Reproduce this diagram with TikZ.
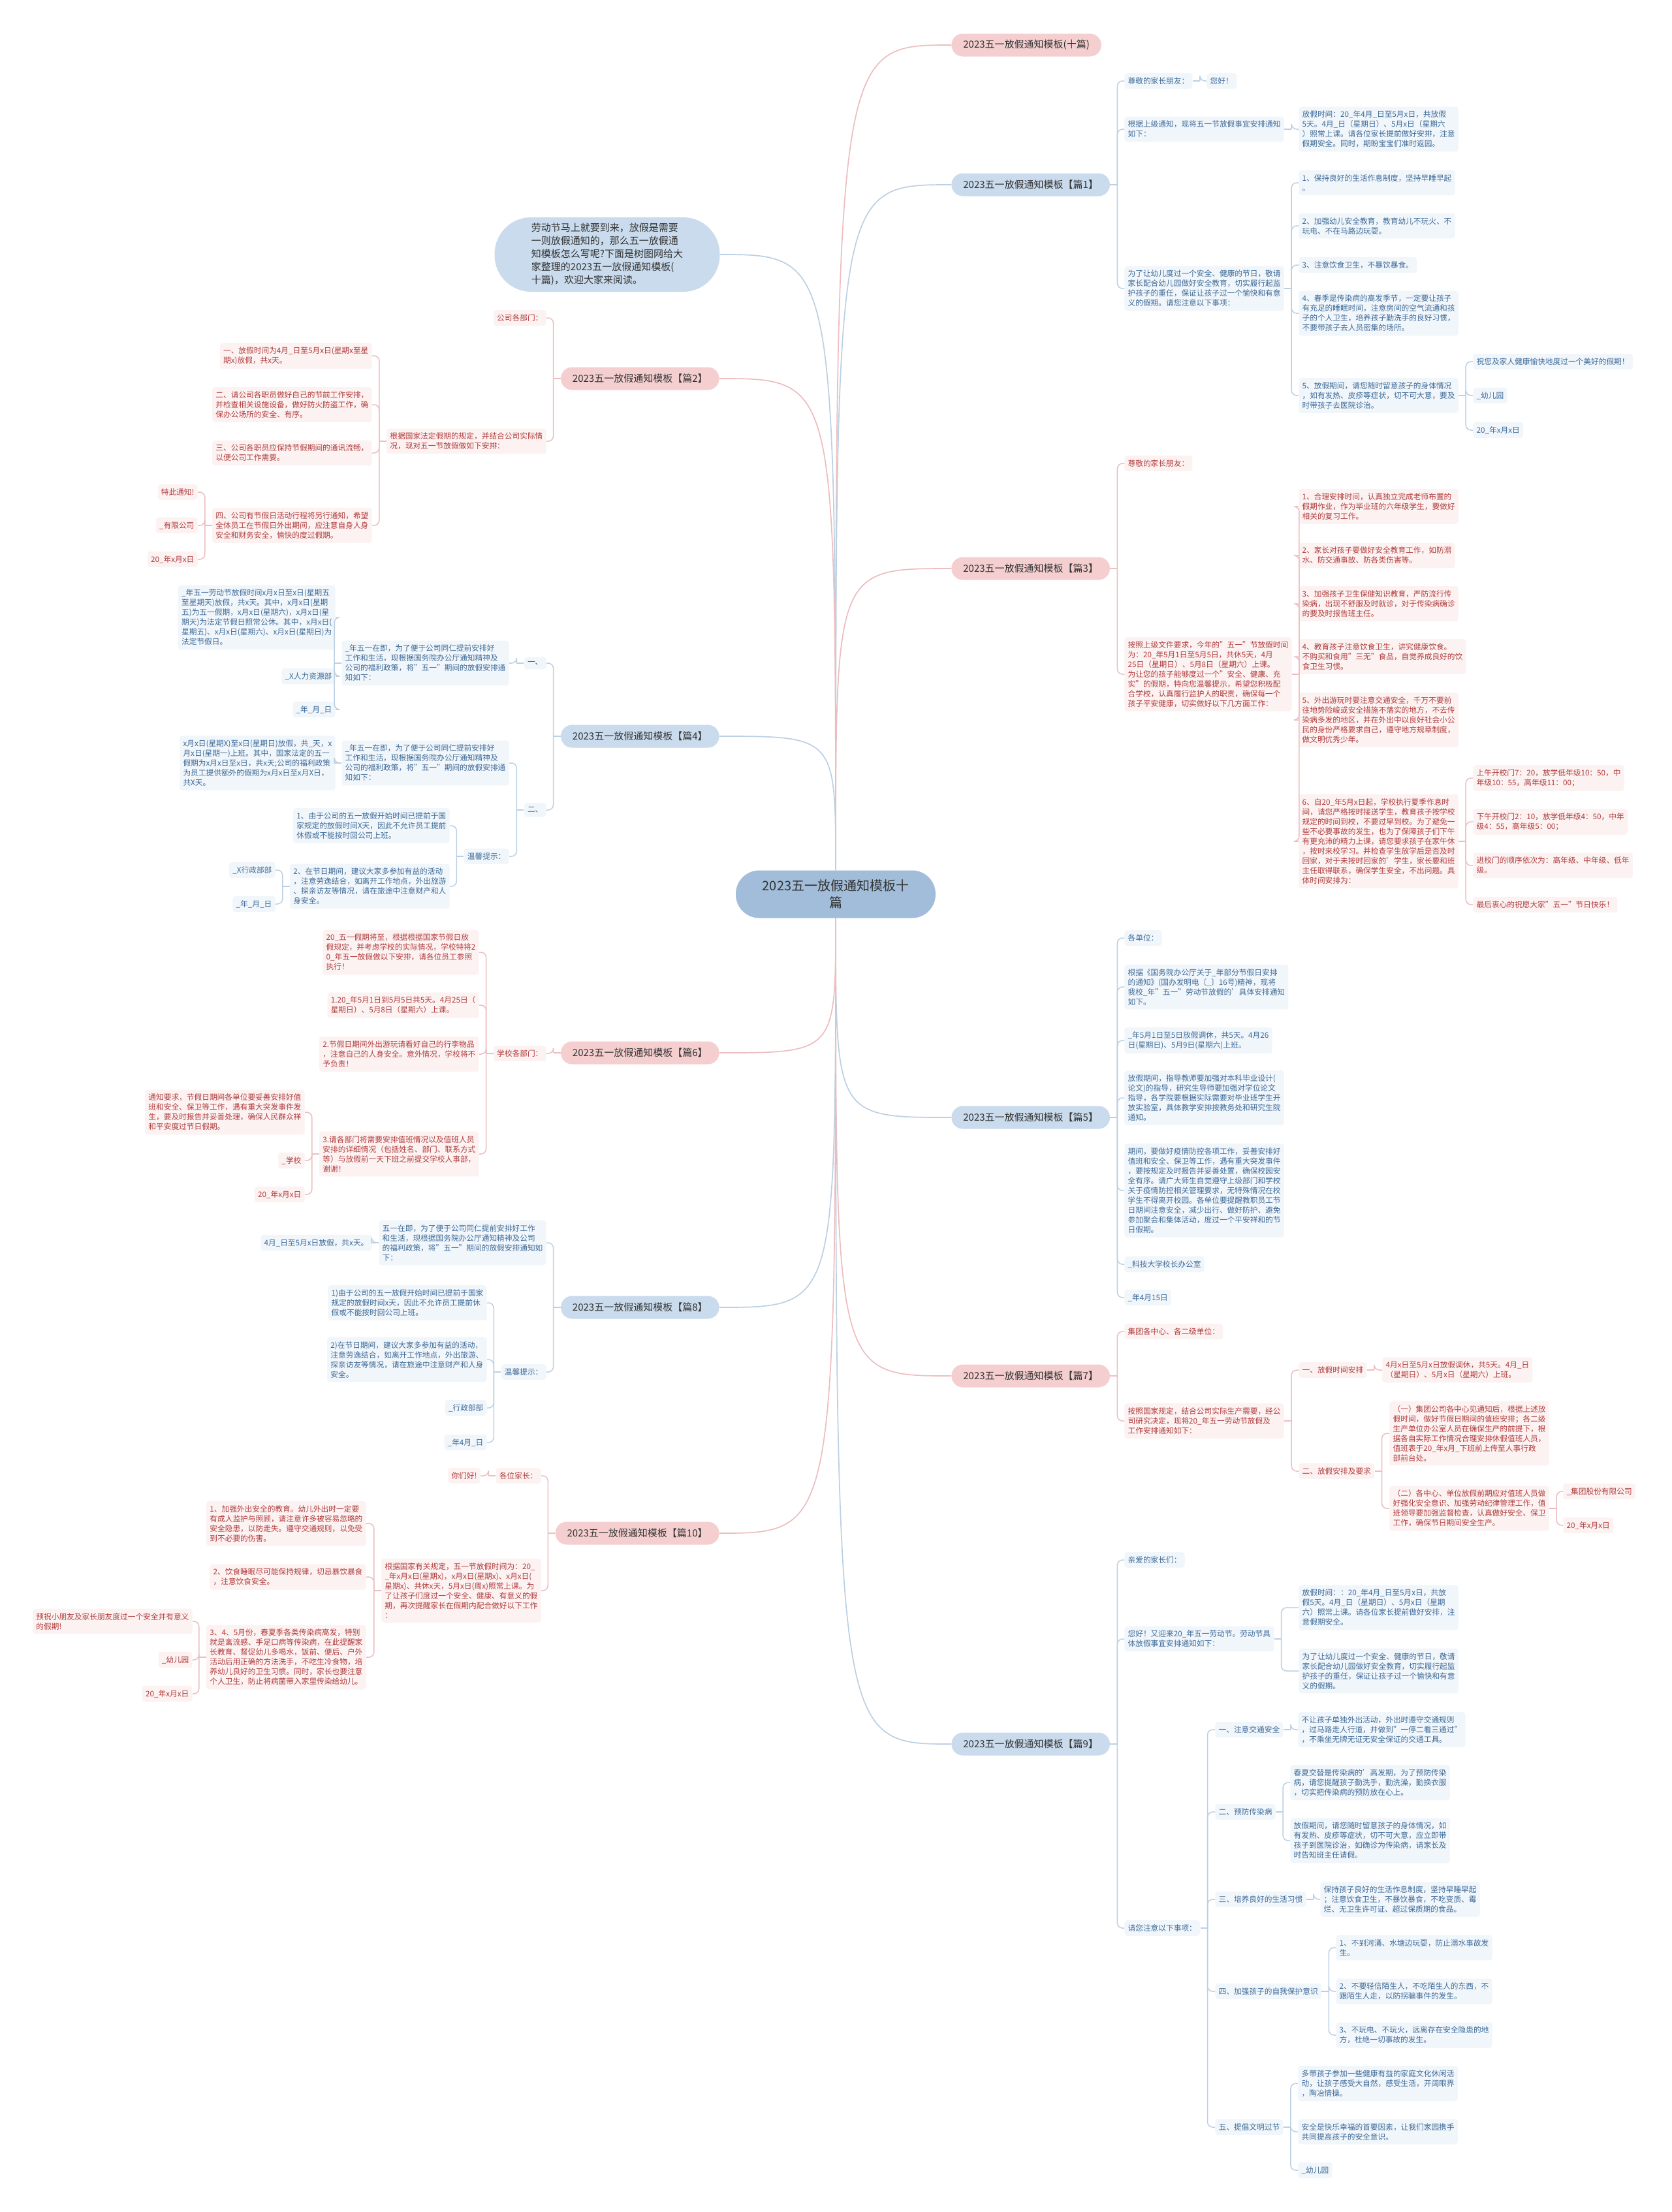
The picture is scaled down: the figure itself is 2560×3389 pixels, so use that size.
\documentclass[tikz,border=0pt]{standalone}
\usepackage{fontspec}
\setmainfont{Noto Sans CJK SC}
\usetikzlibrary{calc}
\definecolor{bpfill}{HTML}{F5CFD0}
\definecolor{bbfill}{HTML}{C9DBEC}
\definecolor{cfill}{HTML}{A1BDD9}
\definecolor{lpfill}{HTML}{FDF2F2}
\definecolor{lbfill}{HTML}{F1F6FB}
\definecolor{lptext}{HTML}{B03C3C}
\definecolor{lbtext}{HTML}{3D6A98}
\definecolor{lpline}{HTML}{EDBDBF}
\definecolor{lbline}{HTML}{BBD0E4}
\definecolor{btext}{HTML}{333333}
\newcommand\lfont{\fontsize{5.85pt}{7.5pt}\selectfont}
\newcommand\bfont{\fontsize{7.5pt}{9pt}\selectfont}
\newcommand\cfont{\fontsize{10pt}{13pt}\selectfont}
\newcommand\ifont{\fontsize{7.5pt}{10pt}\selectfont}
\newcommand\kr[3]{\draw[#1] (#2.east) -- ([xshift=5.5pt]#2.east); \draw[#1] ([xshift=5.5pt]#2.east) |- (#3.west);}
\newcommand\kl[3]{\draw[#1] (#2.west) -- ([xshift=-5.5pt]#2.west); \draw[#1] ([xshift=-5.5pt]#2.west) |- (#3.east);}
\tikzset{
  leafP/.style={fill=lpfill, text=lptext, rounded corners=2pt, inner xsep=2.6pt, inner ysep=3.2pt, font=\lfont, align=left},
  leafB/.style={fill=lbfill, text=lbtext, rounded corners=2pt, inner xsep=2.6pt, inner ysep=3.2pt, font=\lfont, align=left},
  brP/.style={fill=bpfill, text=btext, rounded corners=8.7pt, minimum height=17.5pt, inner xsep=9pt, inner ysep=0pt, font=\bfont},
  brB/.style={fill=bbfill, text=btext, rounded corners=8.7pt, minimum height=17.5pt, inner xsep=9pt, inner ysep=0pt, font=\bfont},
  lnP/.style={draw=lpline, line width=0.75pt, rounded corners=4pt},
  lnB/.style={draw=lbline, line width=0.75pt, rounded corners=4pt},
  cvP/.style={draw=lpline, line width=0.85pt},
  cvB/.style={draw=lbline, line width=0.85pt},
}
\begin{document}
\begin{tikzpicture}[x=0.5pt,y=-0.5pt]
\useasboundingbox (0,0) rectangle (2560,3389);
\fill[white] (0,0) rectangle (2560,3389);

% center
\node[fill=cfill, text=btext, rounded corners=18pt, minimum width=153pt, minimum height=36.5pt, align=center, font=\cfont] (c) at (1280,1370) {2023五一放假通知模板十\\篇};

% right branches
\node[brP, anchor=west] (b10) at (1457,69) {2023五一放假通知模板(十篇)};
\node[brB, anchor=west] (b1) at (1457,283) {2023五一放假通知模板【篇1】};
\node[brP, anchor=west] (b3) at (1457,871) {2023五一放假通知模板【篇3】};
\node[brB, anchor=west] (b5) at (1457,1712) {2023五一放假通知模板【篇5】};
\node[brP, anchor=west] (b7) at (1457,2108) {2023五一放假通知模板【篇7】};
\node[brB, anchor=west] (b9) at (1457,2672) {2023五一放假通知模板【篇9】};

% left branches
\node[fill=bbfill, text=btext, rounded corners=28pt, minimum width=172.5pt, minimum height=57pt, align=left, font=\ifont] (intro) at (930,390) {劳动节马上就要到来，放假是需要\\一则放假通知的，那么五一放假通\\知模板怎么写呢?下面是树图网给大\\家整理的2023五一放假通知模板(\\十篇)，欢迎大家来阅读。};
\node[brP, anchor=east] (b2) at (1102,580) {2023五一放假通知模板【篇2】};
\node[brB, anchor=east] (b4) at (1102,1128) {2023五一放假通知模板【篇4】};
\node[brP, anchor=east] (b6) at (1102,1613) {2023五一放假通知模板【篇6】};
\node[brB, anchor=east] (b8) at (1102,2003) {2023五一放假通知模板【篇8】};
\node[brP, anchor=east] (b10L) at (1102,2349) {2023五一放假通知模板【篇10】};

% center curves
\draw[cvP] (c.north) .. controls (c.north |- b10.west) .. (b10.west);
\draw[cvB] (c.north) .. controls (c.north |- b1.west) .. (b1.west);
\draw[cvP] (c.north) .. controls (c.north |- b3.west) .. (b3.west);
\draw[cvB] (c.south) .. controls (c.south |- b5.west) .. (b5.west);
\draw[cvP] (c.south) .. controls (c.south |- b7.west) .. (b7.west);
\draw[cvB] (c.south) .. controls (c.south |- b9.west) .. (b9.west);
\draw[cvB] (c.north) .. controls (c.north |- intro.east) .. (intro.east);
\draw[cvP] (c.north) .. controls (c.north |- b2.east) .. (b2.east);
\draw[cvB] (c.north) .. controls (c.north |- b4.east) .. (b4.east);
\draw[cvP] (c.south) .. controls (c.south |- b6.east) .. (b6.east);
\draw[cvB] (c.south) .. controls (c.south |- b8.east) .. (b8.east);
\draw[cvP] (c.south) .. controls (c.south |- b10L.east) .. (b10L.east);

% ===== 篇1 =====
\node[leafB, anchor=west] (n1a) at (1722,124) {尊敬的家长朋友：};
\node[leafB, anchor=west] (n1a1) at (1848,124) {您好！};
\node[leafB, anchor=west] (n1b) at (1722,198) {根据上级通知，现将五一节放假事宜安排通知\\如下：};
\node[leafB, anchor=west] (n1b1) at (1989,198) {放假时间：20\_年4月\_日至5月x日，共放假\\5天。4月\_日（星期日）、5月x日（星期六\\）照常上课。请各位家长提前做好安排，注意\\假期安全。同时，期盼宝宝们准时返园。};
\node[leafB, anchor=west] (n1c) at (1722,442) {为了让幼儿度过一个安全、健康的节日，敬请\\家长配合幼儿园做好安全教育，切实履行起监\\护孩子的重任，保证让孩子过一个愉快和有意\\义的假期。请您注意以下事项：};
\node[leafB, anchor=west] (n1c1) at (1989,280) {1、保持良好的生活作息制度，坚持早睡早起\\。};
\node[leafB, anchor=west] (n1c2) at (1989,346) {2、加强幼儿安全教育，教育幼儿不玩火、不\\玩电、不在马路边玩耍。};
\node[leafB, anchor=west] (n1c3) at (1989,406) {3、注意饮食卫生，不暴饮暴食。};
\node[leafB, anchor=west] (n1c4) at (1989,480) {4、春季是传染病的高发季节，一定要让孩子\\有充足的睡眠时间，注意房间的空气流通和孩\\子的个人卫生，培养孩子勤洗手的良好习惯，\\不要带孩子去人员密集的场所。};
\node[leafB, anchor=west] (n1c5) at (1989,606) {5、放假期间，请您随时留意孩子的身体情况\\，如有发热、皮疹等症状，切不可大意，要及\\时带孩子去医院诊治。};
\node[leafB, anchor=west] (n1c5a) at (2256,554) {祝您及家人健康愉快地度过一个美好的假期！};
\node[leafB, anchor=west] (n1c5b) at (2256,606) {\_幼儿园};
\node[leafB, anchor=west] (n1c5c) at (2256,659) {20\_年x月x日};
\kr{lnB}{b1}{n1a} \kr{lnB}{b1}{n1b} \kr{lnB}{b1}{n1c}
\kr{lnB}{n1a}{n1a1} \kr{lnB}{n1b}{n1b1}
\kr{lnB}{n1c}{n1c1} \kr{lnB}{n1c}{n1c2} \kr{lnB}{n1c}{n1c3} \kr{lnB}{n1c}{n1c4} \kr{lnB}{n1c}{n1c5}
\kr{lnB}{n1c5}{n1c5a} \kr{lnB}{n1c5}{n1c5b} \kr{lnB}{n1c5}{n1c5c}

% ===== 篇3 =====
\node[leafP, anchor=west] (n3a) at (1722,710) {尊敬的家长朋友：};
\node[leafP, anchor=west] (n3b) at (1722,1033) {按照上级文件要求，今年的"五一"节放假时间\\为：20\_年5月1日至5月5日，共休5天，4月\\25日（星期日）、5月8日（星期六）上课。\\为让您的孩子能够度过一个"安全、健康、充\\实"的假期，特向您温馨提示，希望您积极配\\合学校，认真履行监护人的职责，确保每一个\\孩子平安健康，切实做好以下几方面工作：};
\node[leafP, anchor=west] (n3b1) at (1989,776) {1、合理安排时间，认真独立完成老师布置的\\假期作业，作为毕业班的六年级学生，要做好\\相关的复习工作。};
\node[leafP, anchor=west] (n3b2) at (1989,851) {2、家长对孩子要做好安全教育工作，如防溺\\水、防交通事故、防各类伤害等。};
\node[leafP, anchor=west] (n3b3) at (1989,925) {3、加强孩子卫生保健知识教育，严防流行传\\染病，出现不舒服及时就诊，对于传染病确诊\\的要及时报告班主任。};
\node[leafP, anchor=west] (n3b4) at (1989,1006) {4、教育孩子注意饮食卫生，讲究健康饮食。\\不购买和食用"三无"食品，自觉养成良好的饮\\食卫生习惯。};
\node[leafP, anchor=west] (n3b5) at (1989,1103) {5、外出游玩时要注意交通安全，千万不要前\\往地势险峻或安全措施不落实的地方，不去传\\染病多发的地区，并在外出中以良好社会小公\\民的身份严格要求自己，遵守地方规章制度，\\做文明优秀少年。};
\node[leafP, anchor=west] (n3b6) at (1989,1289) {6、自20\_年5月x日起，学校执行夏季作息时\\间，请您严格按时接送学生，教育孩子按学校\\规定的时间到校，不要过早到校。为了避免一\\些不必要事故的发生，也为了保障孩子们下午\\有更充沛的精力上课，请您要求孩子在家午休\\，按时来校学习。并检查学生放学后是否及时\\回家，对于未按时回家的'学生，家长要和班\\主任取得联系，确保学生安全，不出问题。具\\体时间安排为：};
\node[leafP, anchor=west] (n3b6a) at (2256,1192) {上午开校门7：20，放学低年级10：50，中\\年级10：55，高年级11：00；};
\node[leafP, anchor=west] (n3b6b) at (2256,1259) {下午开校门2：10，放学低年级4：50，中年\\级4：55，高年级5：00；};
\node[leafP, anchor=west] (n3b6c) at (2256,1326) {进校门的顺序依次为：高年级、中年级、低年\\级。};
\node[leafP, anchor=west] (n3b6d) at (2256,1386) {最后衷心的祝愿大家"五一"节日快乐！};
\kr{lnP}{b3}{n3a} \kr{lnP}{b3}{n3b}
\kr{lnP}{n3b}{n3b1} \kr{lnP}{n3b}{n3b2} \kr{lnP}{n3b}{n3b3} \kr{lnP}{n3b}{n3b4} \kr{lnP}{n3b}{n3b5} \kr{lnP}{n3b}{n3b6}
\kr{lnP}{n3b6}{n3b6a} \kr{lnP}{n3b6}{n3b6b} \kr{lnP}{n3b6}{n3b6c} \kr{lnP}{n3b6}{n3b6d}

% ===== 篇5 =====
\node[leafB, anchor=west] (n5a) at (1722,1437) {各单位：};
\node[leafB, anchor=west] (n5b) at (1722,1512) {根据《国务院办公厅关于\_年部分节假日安排\\的通知》(国办发明电〔\_〕16号)精神，现将\\我校\_年"五一"劳动节放假的'具体安排通知\\如下。};
\node[leafB, anchor=west] (n5c) at (1722,1594) {\_年5月1日至5日放假调休，共5天。4月26\\日(星期日)、5月9日(星期六)上班。};
\node[leafB, anchor=west] (n5d) at (1722,1682) {放假期间，指导教师要加强对本科毕业设计(\\论文)的指导，研究生导师要加强对学位论文\\指导，各学院要根据实际需要对毕业班学生开\\放实验室，具体教学安排按教务处和研究生院\\通知。};
\node[leafB, anchor=west] (n5e) at (1722,1824) {期间，要做好疫情防控各项工作，妥善安排好\\值班和安全、保卫等工作，遇有重大突发事件\\，要按规定及时报告并妥善处置，确保校园安\\全有序。请广大师生自觉遵守上级部门和学校\\关于疫情防控相关管理要求，无特殊情况在校\\学生不得离开校园。各单位要提醒教职员工节\\日期间注意安全，减少出行、做好防护、避免\\参加聚会和集体活动，度过一个平安祥和的节\\日假期。};
\node[leafB, anchor=west] (n5f) at (1722,1937) {\_科技大学校长办公室};
\node[leafB, anchor=west] (n5g) at (1722,1988) {\_年4月15日};
\kr{lnB}{b5}{n5a} \kr{lnB}{b5}{n5b} \kr{lnB}{b5}{n5c} \kr{lnB}{b5}{n5d} \kr{lnB}{b5}{n5e} \kr{lnB}{b5}{n5f} \kr{lnB}{b5}{n5g}

% ===== 篇7 =====
\node[leafP, anchor=west] (n7a) at (1722,2040) {集团各中心、各二级单位：};
\node[leafP, anchor=west] (n7b) at (1722,2177) {按照国家规定，结合公司实际生产需要，经公\\司研究决定，现将20\_年五一劳动节放假及\\工作安排通知如下：};
\node[leafP, anchor=west] (n7b1) at (1989,2099) {一、放假时间安排};
\node[leafP, anchor=west] (n7b1a) at (2117,2099) {4月x日至5月x日放假调休，共5天。4月\_日\\（星期日）、5月x日（星期六）上班。};
\node[leafP, anchor=west] (n7b2) at (1989,2254) {二、放假安排及要求};
\node[leafP, anchor=west] (n7b2a) at (2128,2196) {（一）集团公司各中心见通知后，根据上述放\\假时间，做好节假日期间的值班安排；各二级\\生产单位办公室人员在确保生产的前提下，根\\据各自实际工作情况合理安排休假值班人员，\\值班表于20\_年x月\_下班前上传至人事行政\\部前台处。};
\node[leafP, anchor=west] (n7b2b) at (2128,2311) {（二）各中心、单位放假前期应对值班人员做\\好强化安全意识、加强劳动纪律管理工作，值\\班领导要加强监督检查，认真做好安全、保卫\\工作，确保节日期间安全生产。};
\node[leafP, anchor=west] (n7b2b1) at (2394,2285) {\_集团股份有限公司};
\node[leafP, anchor=west] (n7b2b2) at (2394,2337) {20\_年x月x日};
\kr{lnP}{b7}{n7a} \kr{lnP}{b7}{n7b}
\kr{lnP}{n7b}{n7b1} \kr{lnP}{n7b}{n7b2}
\kr{lnP}{n7b1}{n7b1a}
\kr{lnP}{n7b2}{n7b2a} \kr{lnP}{n7b2}{n7b2b}
\kr{lnP}{n7b2b}{n7b2b1} \kr{lnP}{n7b2b}{n7b2b2}

% ===== 篇9 =====
\node[leafB, anchor=west] (n9a) at (1722,2390) {亲爱的家长们：};
\node[leafB, anchor=west] (n9b) at (1722,2511) {您好！又迎来20\_年五一劳动节。劳动节具\\体放假事宜安排通知如下：};
\node[leafB, anchor=west] (n9b1) at (1989,2463) {放假时间：：20\_年4月\_日至5月x日，共放\\假5天。4月\_日（星期日）、5月x日（星期\\六）照常上课。请各位家长提前做好安排，注\\意假期安全。};
\node[leafB, anchor=west] (n9b2) at (1989,2560) {为了让幼儿度过一个安全、健康的节日，敬请\\家长配合幼儿园做好安全教育，切实履行起监\\护孩子的重任，保证让孩子过一个愉快和有意\\义的假期。};
\node[leafB, anchor=west] (n9c) at (1722,2954) {请您注意以下事项：};
\node[leafB, anchor=west] (n9c1) at (1861,2650) {一、注意交通安全};
\node[leafB, anchor=west] (n9c1a) at (1988,2650) {不让孩子单独外出活动，外出时遵守交通规则\\，过马路走人行道，并做到"一停二看三通过"\\，不乘坐无牌无证无安全保证的交通工具。};
\node[leafB, anchor=west] (n9c2) at (1861,2776) {二、预防传染病};
\node[leafB, anchor=west] (n9c2a) at (1976,2731) {春夏交替是传染病的'高发期，为了预防传染\\病，请您提醒孩子勤洗手，勤洗澡，勤换衣服\\，切实把传染病的预防放在心上。};
\node[leafB, anchor=west] (n9c2b) at (1976,2820) {放假期间，请您随时留意孩子的身体情况，如\\有发热、皮疹等症状，切不可大意，应立即带\\孩子到医院诊治，如确诊为传染病，请家长及\\时告知班主任请假。};
\node[leafB, anchor=west] (n9c3) at (1861,2910) {三、培养良好的生活习惯};
\node[leafB, anchor=west] (n9c3a) at (2022,2910) {保持孩子良好的生活作息制度，坚持早睡早起\\；注意饮食卫生，不暴饮暴食，不吃变质、霉\\烂、无卫生许可证、超过保质期的食品。};
\node[leafB, anchor=west] (n9c4) at (1861,3051) {四、加强孩子的自我保护意识};
\node[leafB, anchor=west] (n9c4a) at (2046,2984) {1、不到河涌、水塘边玩耍，防止溺水事故发\\生。};
\node[leafB, anchor=west] (n9c4b) at (2046,3051) {2、不要轻信陌生人，不吃陌生人的东西，不\\跟陌生人走，以防拐骗事件的发生。};
\node[leafB, anchor=west] (n9c4c) at (2046,3118) {3、不玩电、不玩火，远离存在安全隐患的地\\方，杜绝一切事故的发生。};
\node[leafB, anchor=west] (n9c5) at (1861,3259) {五、提倡文明过节};
\node[leafB, anchor=west] (n9c5a) at (1988,3192) {多带孩子参加一些健康有益的家庭文化休闲活\\动，让孩子感受大自然，感受生活，开阔眼界\\，陶冶情操。};
\node[leafB, anchor=west] (n9c5b) at (1988,3266) {安全是快乐幸福的首要因素，让我们家园携手\\共同提高孩子的安全意识。};
\node[leafB, anchor=west] (n9c5c) at (1988,3325) {\_幼儿园};
\kr{lnB}{b9}{n9a} \kr{lnB}{b9}{n9b} \kr{lnB}{b9}{n9c}
\kr{lnB}{n9b}{n9b1} \kr{lnB}{n9b}{n9b2}
\kr{lnB}{n9c}{n9c1} \kr{lnB}{n9c}{n9c2} \kr{lnB}{n9c}{n9c3} \kr{lnB}{n9c}{n9c4} \kr{lnB}{n9c}{n9c5}
\kr{lnB}{n9c1}{n9c1a}
\kr{lnB}{n9c2}{n9c2a} \kr{lnB}{n9c2}{n9c2b}
\kr{lnB}{n9c3}{n9c3a}
\kr{lnB}{n9c4}{n9c4a} \kr{lnB}{n9c4}{n9c4b} \kr{lnB}{n9c4}{n9c4c}
\kr{lnB}{n9c5}{n9c5a} \kr{lnB}{n9c5}{n9c5b} \kr{lnB}{n9c5}{n9c5c}

% ===== 篇2 =====
\node[leafP, anchor=east] (n2a) at (837,487) {公司各部门：};
\node[leafP, anchor=east] (n2b) at (837,676) {根据国家法定假期的规定，并结合公司实际情\\况，现对五一节放假做如下安排：};
\node[leafP, anchor=east] (n2b1) at (570,545) {一、放假时间为4月\_日至5月x日(星期x至星\\期x)放假，共x天。};
\node[leafP, anchor=east] (n2b2) at (570,620) {二、请公司各职员做好自己的节前工作安排，\\并检查相关设施设备，做好防火防盗工作，确\\保办公场所的安全、有序。};
\node[leafP, anchor=east] (n2b3) at (570,694) {三、公司各职员应保持节假期间的通讯流畅，\\以便公司工作需要。};
\node[leafP, anchor=east] (n2b4) at (570,805) {四、公司有节假日活动行程将另行通知，希望\\全体员工在节假日外出期间，应注意自身人身\\安全和财务安全，愉快的度过假期。};
\node[leafP, anchor=east] (n2b4a) at (303,754) {特此通知!};
\node[leafP, anchor=east] (n2b4b) at (303,805) {\_有限公司};
\node[leafP, anchor=east] (n2b4c) at (303,857) {20\_年x月x日};
\kl{lnP}{b2}{n2a} \kl{lnP}{b2}{n2b}
\kl{lnP}{n2b}{n2b1} \kl{lnP}{n2b}{n2b2} \kl{lnP}{n2b}{n2b3} \kl{lnP}{n2b}{n2b4}
\kl{lnP}{n2b4}{n2b4a} \kl{lnP}{n2b4}{n2b4b} \kl{lnP}{n2b4}{n2b4c}

% ===== 篇4 =====
\node[leafB, anchor=east] (n4a) at (837,1016) {一、};
\node[leafB, anchor=east] (n4a1) at (780,1016) {\_年五一在即，为了便于公司同仁提前安排好\\工作和生活，现根据国务院办公厅通知精神及\\公司的福利政策，将"五一"期间的放假安排通\\知如下：};
\node[leafB, anchor=east] (n4a1a) at (514,946) {\_年五一劳动节放假时间x月x日至x日(星期五\\至星期天)放假，共x天。其中，x月x日(星期\\五)为五一假期，x月x日(星期六)，x月x日(星\\期天)为法定节假日照常公休。其中，x月x日(\\星期五)、x月x日(星期六)、x月x日(星期日)为\\法定节假日。};
\node[leafB, anchor=east] (n4a1b) at (514,1036) {\_X人力资源部};
\node[leafB, anchor=east] (n4a1c) at (514,1087) {\_年\_月\_日};
\node[leafB, anchor=east] (n4b) at (837,1241) {二、};
\node[leafB, anchor=east] (n4b1) at (780,1169) {\_年五一在即，为了便于公司同仁提前安排好\\工作和生活，现根据国务院办公厅通知精神及\\公司的福利政策，将"五一"期间的放假安排通\\知如下：};
\node[leafB, anchor=east] (n4b1a) at (514,1169) {x月x日(星期X)至x日(星期日)放假，共\_天，x\\月x日(星期一)上班。其中，国家法定的五一\\假期为x月x日至x日，共x天;公司的福利政策\\为员工提供额外的假期为x月x日至x月X日，\\共X天。};
\node[leafB, anchor=east] (n4b2) at (780,1312) {温馨提示：};
\node[leafB, anchor=east] (n4b2a) at (689,1265) {1、由于公司的五一放假开始时间已提前于国\\家规定的放假时间X天，因此不允许员工提前\\休假或不能按时回公司上班。};
\node[leafB, anchor=east] (n4b2b) at (689,1358) {2、在节日期间，建议大家多参加有益的活动\\，注意劳逸结合，如离开工作地点，外出旅游\\、探亲访友等情况，请在旅途中注意财产和人\\身安全。};
\node[leafB, anchor=east] (n4b2b1) at (422,1333) {\_X行政部部};
\node[leafB, anchor=east] (n4b2b2) at (422,1385) {\_年\_月\_日};
\kl{lnB}{b4}{n4a} \kl{lnB}{b4}{n4b}
\kl{lnB}{n4a}{n4a1}
\kl{lnB}{n4a1}{n4a1a} \kl{lnB}{n4a1}{n4a1b} \kl{lnB}{n4a1}{n4a1c}
\kl{lnB}{n4b}{n4b1} \kl{lnB}{n4b}{n4b2}
\kl{lnB}{n4b1}{n4b1a}
\kl{lnB}{n4b2}{n4b2a} \kl{lnB}{n4b2}{n4b2b}
\kl{lnB}{n4b2b}{n4b2b1} \kl{lnB}{n4b2b}{n4b2b2}

% ===== 篇6 =====
\node[leafP, anchor=east] (n6a) at (837,1614) {学校各部门：};
\node[leafP, anchor=east] (n6a1) at (734,1459) {20\_五一假期将至，根据根据国家节假日放\\假规定，并考虑学校的实际情况，学校特将2\\0\_年五一放假做以下安排，请各位员工参照\\执行！};
\node[leafP, anchor=east] (n6a2) at (734,1540) {1.20\_年5月1日到5月5日共5天。4月25日（\\星期日）、5月8日（星期六）上课。};
\node[leafP, anchor=east] (n6a3) at (734,1615) {2.节假日期间外出游玩请看好自己的行李物品\\，注意自己的人身安全。意外情况，学校将不\\予负责！};
\node[leafP, anchor=east] (n6a4) at (734,1768) {3.请各部门将需要安排值班情况以及值班人员\\安排的详细情况（包括姓名、部门、联系方式\\等）与放假前一天下班之前提交学校人事部，\\谢谢！};
\node[leafP, anchor=east] (n6a4a) at (467,1704) {通知要求，节假日期间各单位要妥善安排好值\\班和安全、保卫等工作，遇有重大突发事件发\\生，要及时报告并妥善处理，确保人民群众祥\\和平安度过节日假期。};
\node[leafP, anchor=east] (n6a4b) at (467,1778) {\_学校};
\node[leafP, anchor=east] (n6a4c) at (467,1830) {20\_年x月x日};
\kl{lnP}{b6}{n6a}
\kl{lnP}{n6a}{n6a1} \kl{lnP}{n6a}{n6a2} \kl{lnP}{n6a}{n6a3} \kl{lnP}{n6a}{n6a4}
\kl{lnP}{n6a4}{n6a4a} \kl{lnP}{n6a4}{n6a4b} \kl{lnP}{n6a4}{n6a4c}

% ===== 篇8 =====
\node[leafB, anchor=east] (n8a) at (837,1904) {五一在即，为了便于公司同仁提前安排好工作\\和生活，现根据国务院办公厅通知精神及公司\\的福利政策，将"五一"期间的放假安排通知如\\下：};
\node[leafB, anchor=east] (n8a1) at (570,1904) {4月\_日至5月x日放假，共x天。};
\node[leafB, anchor=east] (n8b) at (837,2102) {温馨提示：};
\node[leafB, anchor=east] (n8b1) at (746,1996) {1)由于公司的五一放假开始时间已提前于国家\\规定的放假时间x天，因此不允许员工提前休\\假或不能按时回公司上班。};
\node[leafB, anchor=east] (n8b2) at (746,2083) {2)在节日期间，建议大家多参加有益的活动，\\注意劳逸结合，如离开工作地点，外出旅游、\\探亲访友等情况，请在旅途中注意财产和人身\\安全。};
\node[leafB, anchor=east] (n8b3) at (746,2157) {\_行政部部};
\node[leafB, anchor=east] (n8b4) at (746,2210) {\_年4月\_日};
\kl{lnB}{b8}{n8a} \kl{lnB}{b8}{n8b}
\kl{lnB}{n8a}{n8a1}
\kl{lnB}{n8b}{n8b1} \kl{lnB}{n8b}{n8b2} \kl{lnB}{n8b}{n8b3} \kl{lnB}{n8b}{n8b4}

% ===== 篇10 =====
\node[leafP, anchor=east] (n10a) at (829,2261) {各位家长：};
\node[leafP, anchor=east] (n10a1) at (736,2261) {你们好!};
\node[leafP, anchor=east] (n10b) at (829,2437) {根据国家有关规定，五一节放假时间为：20\_\\\_年x月x日(星期x)，x月x日(星期x)、x月x日(\\星期x)、共休x天，5月x日(周x)照常上课。为\\了让孩子们度过一个安全、健康、有意义的假\\期，再次提醒家长在假期内配合做好以下工作\\：};
\node[leafP, anchor=east] (n10b1) at (561,2334) {1、加强外出安全的教育。幼儿外出时一定要\\有成人监护与照顾，请注意许多被容易忽略的\\安全隐患，以防走失。遵守交通规则，以免受\\到不必要的伤害。};
\node[leafP, anchor=east] (n10b2) at (561,2416) {2、饮食睡眠尽可能保持规律，切忌暴饮暴食\\，注意饮食安全。};
\node[leafP, anchor=east] (n10b3) at (561,2539) {3、4、5月份，春夏季各类传染病高发，特别\\就是禽流感、手足口病等传染病，在此提醒家\\长教育、督促幼儿多喝水，饭前、便后、户外\\活动后用正确的方法洗手，不吃生冷食物，培\\养幼儿良好的卫生习惯。同时，家长也要注意\\个人卫生，防止将病菌带入家里传染给幼儿。};
\node[leafP, anchor=east] (n10b3a) at (295,2484) {预祝小朋友及家长朋友度过一个安全并有意义\\的假期!};
\node[leafP, anchor=east] (n10b3b) at (295,2543) {\_幼儿园};
\node[leafP, anchor=east] (n10b3c) at (295,2595) {20\_年x月x日};
\kl{lnP}{b10L}{n10a} \kl{lnP}{b10L}{n10b}
\kl{lnP}{n10a}{n10a1}
\kl{lnP}{n10b}{n10b1} \kl{lnP}{n10b}{n10b2} \kl{lnP}{n10b}{n10b3}
\kl{lnP}{n10b3}{n10b3a} \kl{lnP}{n10b3}{n10b3b} \kl{lnP}{n10b3}{n10b3c}

\end{tikzpicture}
\end{document}
